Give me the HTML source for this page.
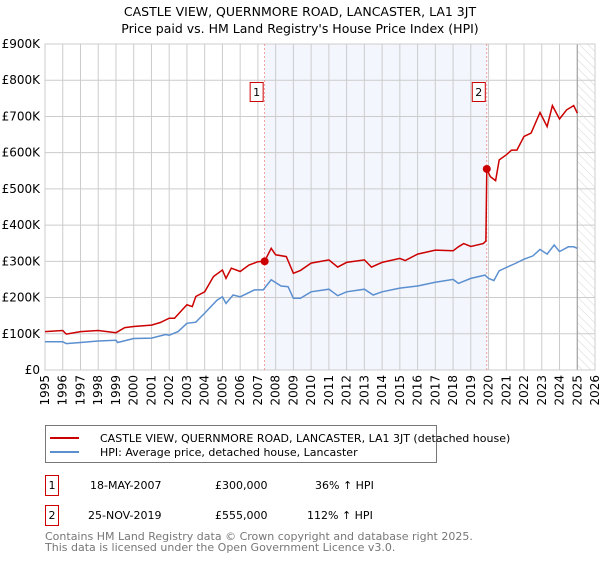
<!DOCTYPE html>
<html><head><meta charset="utf-8"><style>
body{margin:0;background:#fff;font-family:"Liberation Sans","DejaVu Sans",sans-serif;}
svg text{font-family:"DejaVu Sans","Liberation Sans",sans-serif;}
</style></head><body>
<svg id="chart" width="600" height="560" xmlns="http://www.w3.org/2000/svg">
<defs><pattern id="hatch" width="6" height="6" patternUnits="userSpaceOnUse" patternTransform="rotate(-45)"><line x1="0" y1="0" x2="0" y2="6" stroke="#ccc" stroke-width="0.8"/></pattern></defs>
<text x="300" y="16" text-anchor="middle" font-size="12.5">CASTLE VIEW, QUERNMORE ROAD, LANCASTER, LA1 3JT</text>
<text x="300" y="33" text-anchor="middle" font-size="12.5">Price paid vs. HM Land Registry's House Price Index (HPI)</text>
<g id="grid"></g><g id="marks"></g>
<g>
<rect x="45.5" y="425.5" width="391" height="37" fill="#fff" stroke="#777"/>
<line x1="50" y1="438" x2="79" y2="438" stroke="#cc0000" stroke-width="2"/>
<text x="100" y="442" font-size="11">CASTLE VIEW, QUERNMORE ROAD, LANCASTER, LA1 3JT (detached house)</text>
<line x1="50" y1="452" x2="79" y2="452" stroke="#5b8fd0" stroke-width="2"/>
<text x="100" y="456" font-size="11">HPI: Average price, detached house, Lancaster</text>
</g>
<g font-size="11">
<rect x="45.5" y="475.5" width="13" height="20" fill="none" stroke="#cc0000"/><text x="52" y="489" text-anchor="middle">1</text>
<text x="90" y="489">18-MAY-2007</text><text x="215" y="489">£300,000</text><text x="315" y="489">36% ↑ HPI</text>
<rect x="45.5" y="505.5" width="13" height="20" fill="none" stroke="#cc0000"/><text x="52" y="519" text-anchor="middle">2</text>
<text x="88" y="519">25-NOV-2019</text><text x="215" y="519">£555,000</text><text x="307" y="519">112% ↑ HPI</text>
</g>
<text x="45" y="540" font-size="11" fill="#777">Contains HM Land Registry data © Crown copyright and database right 2025.</text>
<text x="45" y="551" font-size="11" fill="#777">This data is licensed under the Open Government Licence v3.0.</text>
</svg>
<script>
const years=[1995,1996,1997,1998,1999,2000,2001,2002,2003,2004,2005,2006,2007,2008,2009,2010,2011,2012,2013,2014,2015,2016,2017,2018,2019,2020,2021,2022,2023,2024,2025,2026];
const yTicks=[0,100000,200000,300000,400000,500000,600000,700000,800000,900000];
const yTickLabels=["£0","£100K","£200K","£300K","£400K","£500K","£600K","£700K","£800K","£900K"];
const hpiT=[1995,1996,1996.2,1997,1998,1999,1999.1,2000,2001,2001.8,2002,2002.5,2003,2003.5,2004,2004.7,2005,2005.2,2005.6,2006,2006.8,2007.3,2007.75,2008.3,2008.7,2009,2009.4,2010,2011,2011.5,2012,2013,2013.5,2014,2015,2016,2017,2018,2018.3,2019,2019.8,2020,2020.3,2020.6,2021,2021.5,2022,2022.5,2022.9,2023.3,2023.7,2024,2024.5,2024.8,2025];
const hpiV=[78000,78000,73000,76000,80000,82000,76000,87000,88000,98000,96000,106000,129000,132000,157000,193000,202000,184000,207000,202000,221000,221000,249000,232000,230000,198000,198000,216000,223000,205000,216000,223000,207000,216000,226000,232000,242000,250000,239000,253000,262000,253000,247000,274000,283000,294000,306000,315000,333000,320000,345000,327000,340000,340000,336000];
const priceT=[1995,1996,1996.2,1997,1998,1999,1999.5,2000,2001,2001.5,2002,2002.3,2003,2003.3,2003.5,2004,2004.5,2005,2005.2,2005.5,2006,2006.5,2007,2007.38,2007.75,2008,2008.6,2009,2009.4,2010,2011,2011.5,2012,2013,2013.4,2014,2015,2015.3,2016,2017,2018,2018.3,2018.6,2019,2019.7,2019.85,2019.9,2020.1,2020.4,2020.6,2021,2021.3,2021.6,2022,2022.4,2022.9,2023.3,2023.6,2024,2024.4,2024.8,2025];
const priceV=[106000,109000,99000,106000,109000,103000,117000,120000,124000,131000,143000,143000,180000,175000,203000,216000,258000,276000,253000,281000,272000,290000,299000,300000,336000,318000,313000,267000,275000,295000,304000,284000,297000,304000,284000,297000,308000,302000,320000,331000,329000,340000,349000,341000,349000,356000,555000,534000,523000,580000,594000,607000,607000,645000,654000,711000,672000,730000,693000,718000,730000,709000];
const saleT=[2007.38,2019.9];
const saleV=[300000,555000];
const saleLabels=["1","2"];
const NS="http://www.w3.org/2000/svg";
const X0=45,X1=595,Y0=370,Y1=44;
const xs=t=>X0+(t-1995)/(2026-1995)*(X1-X0);
const ys=v=>Y0-v/900000*(Y0-Y1);
function mk(tag,at,parent){const e=document.createElementNS(NS,tag);for(const k in at)e.setAttribute(k,at[k]);parent.appendChild(e);return e;}
const g=document.getElementById('grid'),m=document.getElementById('marks');
let sh=mk('rect',{x:xs(saleT[0]),y:Y1,width:xs(saleT[1])-xs(saleT[0]),height:Y0-Y1,fill:'#f3f6fd'},g);


years.forEach(y=>{const x=xs(y);
 let l=mk('line',{x1:x,x2:x,y1:Y1,y2:Y0,stroke:'#ccc','stroke-width':1},g);
 
 
 let t=mk('text',{x:0,y:0,'font-size':12,'text-anchor':'end',transform:`translate(${x+4},375) rotate(-90)`},g);
 t.textContent=y;
 
 
});
yTicks.forEach((v,i)=>{const y=ys(v);
 let l=mk('line',{x1:X0,x2:X1,y1:y,y2:y,stroke:'#ccc','stroke-width':1},g);
 
 
 let t=mk('text',{x:40,y:y+4,'font-size':12,'text-anchor':'end'},g);
 t.textContent=yTickLabels[i];
 
 
});
let hz=mk('rect',{x:xs(2025),y:Y1,width:X1-xs(2025),height:Y0-Y1,fill:'url(#hatch)'},g);


mk('line',{x1:xs(2025),x2:xs(2025),y1:Y1,y2:Y0,stroke:'#999','stroke-width':1},g);
mk('rect',{x:X0,y:Y1,width:X1-X0,height:Y0-Y1,fill:'none',stroke:'#ccc'},g);
saleT.forEach((t,i)=>{const x=xs(t);
 let l=mk('line',{x1:x,x2:x,y1:Y1,y2:Y0,stroke:'#e88','stroke-width':0.8,'stroke-dasharray':'2,2'},m);
 
 
 let r=mk('rect',{x:x-14.5,y:82.5,width:13,height:19,fill:'#fff',stroke:'#cc0000'},m);
 
 
 let tx=mk('text',{x:x-8,y:96,'font-size':11,'text-anchor':'middle'},m);tx.textContent=saleLabels[i];
});
function line(T,V,c,name){let p=mk('path',{d:T.map((t,i)=>(i?'L':'M')+xs(t).toFixed(1)+','+ys(V[i]).toFixed(1)).join(''),fill:'none',stroke:c,'stroke-width':1.5},m);
 
 }
line(hpiT,hpiV,'#5b8fd0','hpi-line');
line(priceT,priceV,'#cc0000','price-line');
saleT.forEach((t,i)=>{let c=mk('circle',{cx:xs(t),cy:ys(saleV[i]),r:4,fill:'#cc0000'},m);
 
 });
</script>
</body></html>
